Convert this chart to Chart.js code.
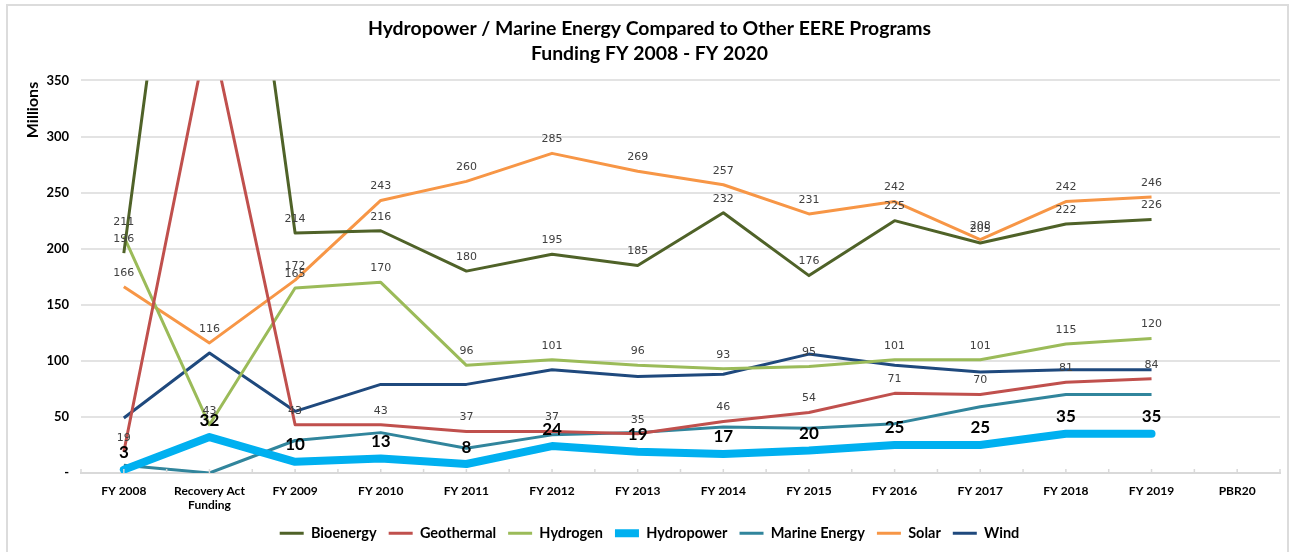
<!DOCTYPE html>
<html lang="en">
<head>
<meta charset="UTF-8">
<title>Hydropower / Marine Energy Compared to Other EERE Programs</title>
<script src="https://cdn.jsdelivr.net/npm/chart.js@4.4.0/dist/chart.umd.min.js"></script>
<style>
    body { margin: 0; background: #fff; }
    #wrap { position: relative; width: 1291px; height: 552px; overflow: hidden; }
    #frame { position: absolute; left: 6px; top: 4px; width: 1283px; height: 570px; border: 2px solid #dcdcdc; box-sizing: border-box; }
    #chart { position: absolute; left: 0; top: 0; }
</style>
</head>
<body>
<div id="wrap">
    <div id="frame"></div>
    <canvas id="chart" width="1291" height="552"></canvas>
</div>

<script>
// categories (x axis)
const categories = ['FY 2008', ['Recovery Act', 'Funding'], 'FY 2009', 'FY 2010', 'FY 2011', 'FY 2012',
    'FY 2013', 'FY 2014', 'FY 2015', 'FY 2016', 'FY 2017', 'FY 2018', 'FY 2019', 'PBR20'];

// funding in millions (PBR20 has no values)
const bioenergy  = [196, 768, 214, 216, 180, 195, 185, 232, 176, 225, 205, 222, 226, null];
const geothermal = [19, 400, 43, 43, 37, 37, 35, 46, 54, 71, 70, 81, 84, null];
const hydrogen   = [211, 43, 165, 170, 96, 101, 96, 93, 95, 101, 101, 115, 120, null];
const hydropower = [3, 32, 10, 13, 8, 24, 19, 17, 20, 25, 25, 35, 35, null];
const marine     = [7, 0, 29, 36, 22, 34, 36, 41, 40, 44, 59, 70, 70, null];
const solar      = [166, 116, 172, 243, 260, 285, 269, 257, 231, 242, 208, 242, 246, null];
const wind       = [49, 107, 55, 79, 79, 92, 86, 88, 106, 96, 90, 92, 92, null];

// y axis ticks
const yTicks = [0, 50, 100, 150, 200, 250, 300, 350];

function line(label, data, color, labels, width) {
    return {
        label: label,
        data: data,
        borderColor: color,
        backgroundColor: color,
        borderWidth: width || 3,
        pointRadius: 0,
        pointHoverRadius: 0,
        pointStyle: 'line',
        tension: 0,
        borderCapStyle: width ? 'round' : 'butt',
        borderJoinStyle: 'round',
        showLabels: labels
    };
}

// value labels above points
const valueLabels = {
    id: 'valueLabels',
    afterDatasetsDraw(chart) {
        const ctx = chart.ctx;
        const top = chart.chartArea.top;
        ctx.save();
        ctx.textAlign = 'center';
        ctx.textBaseline = 'middle';
        chart.data.datasets.forEach((ds, i) => {
            if (!ds.showLabels) return;
            const bold = ds.showLabels === 'bold';
            ctx.font = bold ? 'bold 17px Lato' : '11px "DejaVu Sans"';
            ctx.fillStyle = bold ? '#000' : '#404040';
            const off = bold ? 17 : 14;
            chart.getDatasetMeta(i).data.forEach((pt, j) => {
                const v = ds.data[j];
                if (v === null || pt.y < top) return;
                ctx.fillText(String(v), pt.x, pt.y - off);
            });
        });
        ctx.restore();
    }
};

// small tick marks on the category axis + the y axis title near the top
const extras = {
    id: 'extras',
    afterDraw(chart) {
        const ctx = chart.ctx;
        const x = chart.scales.x;
        const bottom = chart.chartArea.bottom;
        ctx.save();
        ctx.strokeStyle = '#d9d9d9';
        ctx.lineWidth = 1.5;
        for (let i = -0.5; i <= categories.length - 0.5; i += 0.5) {
            const px = x.getPixelForValue(i);
            ctx.beginPath();
            ctx.moveTo(px, bottom - 4);
            ctx.lineTo(px, bottom);
            ctx.stroke();
        }
        ctx.translate(33, 110);
        ctx.rotate(-Math.PI / 2);
        ctx.font = 'bold 16px Lato';
        ctx.fillStyle = '#000';
        ctx.textAlign = 'center';
        ctx.textBaseline = 'middle';
        ctx.fillText('Millions', 0, 0);
        ctx.restore();
    }
};

new Chart(document.getElementById('chart'), {
    type: 'line',
    data: {
        labels: categories,
        datasets: [
            line('Bioenergy', bioenergy, '#4f6228', true),
            line('Geothermal', geothermal, '#c0504d', true),
            line('Hydrogen', hydrogen, '#9bbb59', true),
            line('Hydropower', hydropower, '#00b0f0', 'bold', 8),
            line('Marine Energy', marine, '#31859c', false),
            line('Solar', solar, '#f79646', true),
            line('Wind', wind, '#1f497d', false)
        ]
    },
    options: {
        responsive: false,
        animation: false,
        events: [],
        layout: { padding: { left: 19, right: 11, top: 0, bottom: 1.5 } },
        plugins: {
            title: {
                display: true,
                text: ['Hydropower / Marine Energy Compared to Other EERE Programs', 'Funding FY 2008 - FY 2020'],
                font: { family: 'Lato', size: 19.4, weight: 'bold', lineHeight: 1.3 },
                color: '#000',
                padding: { top: 16, bottom: 14 }
            },
            legend: {
                position: 'bottom',
                labels: {
                    usePointStyle: true,
                    pointStyleWidth: 24,
                    padding: 12,
                    color: '#000',
                    font: { family: 'Lato', size: 14.5, weight: 'bold' }
                }
            },
            tooltip: { enabled: false }
        },
        scales: {
            x: {
                offset: true,
                grid: { display: false, drawTicks: false },
                border: { display: true, color: '#d9d9d9', width: 2 },
                ticks: {
                    padding: 11,
                    maxRotation: 0,
                    autoSkip: false,
                    color: '#000',
                    font: { family: 'Lato', size: 12, weight: 'bold' }
                },
                afterFit(scale) { scale.height = 41; }
            },
            y: {
                min: 0,
                max: 350,
                afterBuildTicks(scale) { scale.ticks = yTicks.map(v => ({ value: v })); },
                grid: { color: '#e3e3e3', lineWidth: 2, drawTicks: false },
                border: { display: false },
                ticks: {
                    padding: 12,
                    color: '#000',
                    font: { family: 'Lato', size: 13, weight: 'bold' },
                    callback: v => v === 0 ? '-' : v
                },
                afterFit(scale) { scale.width = 62; }
            }
        }
    },
    plugins: [valueLabels, extras]
});
</script>
</body>
</html>
